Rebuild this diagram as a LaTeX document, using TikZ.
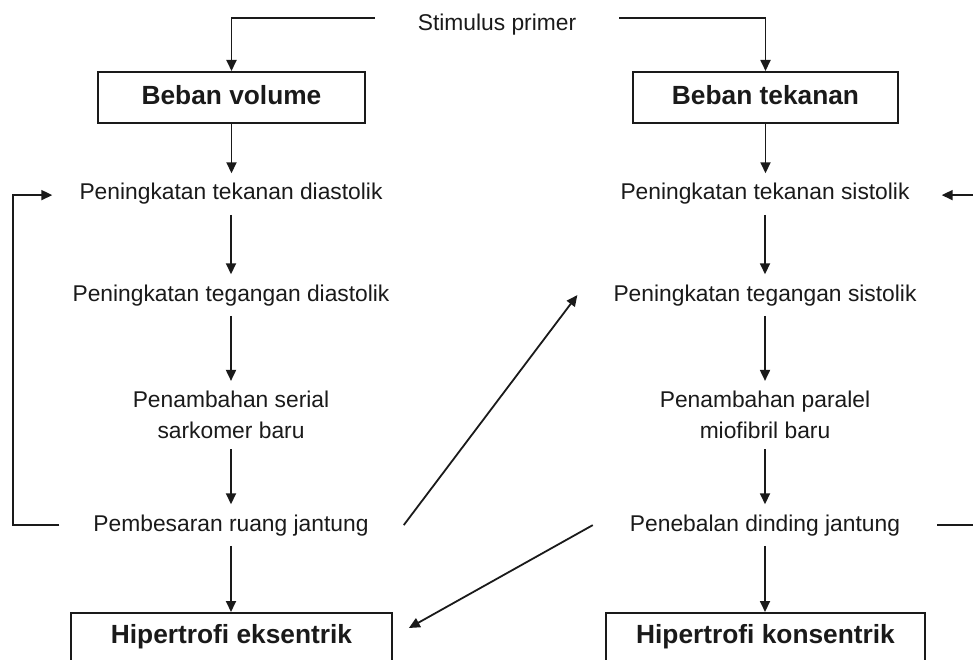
\documentclass[tikz,border=0pt]{standalone}
\usepackage{fontspec}
\setmainfont{Liberation Sans}
\usetikzlibrary{positioning,arrows.meta,calc}
\definecolor{ink}{HTML}{1A1A1A}
\tikzset{
  flow/.style={-{Triangle[length=11pt,width=10pt]}, line width=1.8pt, color=ink},
  lbl/.style={font=\fontsize{22.8}{31}\selectfont, inner sep=10pt, align=center, text=ink},
  blk/.style={draw=ink, line width=1.8pt, font=\fontsize{26.3}{31}\selectfont\bfseries,
    text height=19pt, text depth=4pt, inner ysep=14pt, minimum width=#1, anchor=north, text=ink},
  blk/.default=267pt,
  deep/.style={text depth=30pt, inner ysep=12pt},
}

\begin{document}
\begin{tikzpicture}[x=1pt,y=-1pt]
  \useasboundingbox (0,0) rectangle (973,660);
  \clip (0,0) rectangle (973,660);
  \node[lbl,anchor=base] (stim) at (497,31) {Stimulus primer};
  \node[blk] (vol) at (231.5,71) {Beban volume};
  \node[blk=265pt] (tek) at (765.5,71) {Beban tekanan};
  % volume side
  \node[lbl,anchor=base] (ld1) at (231,200) {Peningkatan tekanan diastolik};
  \node[lbl,anchor=base] (ld2) at (231,301) {Peningkatan tegangan diastolik};
  \node[lbl] (ld3) at (231,415) {Penambahan serial\\sarkomer baru};
  \node[lbl,anchor=base] (ld4) at (231,531) {Pembesaran ruang jantung};
  \node[blk=321pt,deep] (ecc) at (231.5,612) {Hipertrofi eksentrik};
  % pressure side
  \node[lbl,anchor=base] (rs1) at (765,200) {Peningkatan tekanan sistolik};
  \node[lbl,anchor=base] (rs2) at (765,301) {Peningkatan tegangan sistolik};
  \node[lbl] (rs3) at (765,415) {Penambahan paralel\\miofibril baru};
  \node[lbl,anchor=base] (rs4) at (765,531) {Penebalan dinding jantung};
  \node[blk=319pt,deep] (kon) at (765.5,612) {Hipertrofi konsentrik};
  \coordinate (lloop) at (13,0);
  \coordinate (rloop) at (990,0);

  \draw[flow] ([xshift=-33pt,yshift=7pt]stim.west) -| (vol.north);
  \draw[flow] ([xshift=33pt,yshift=7pt]stim.east) -| (tek.north);
  \foreach \a/\b in {vol/ld1,ld1/ld2,ld2/ld3,ld3/ld4,ld4/ecc,
                     tek/rs1,rs1/rs2,rs2/rs3,rs3/rs4,rs4/kon}
    \draw[flow] (\a.south) -- (\a.south |- \b.north);
  % feedback loops
  \draw[flow] ([xshift=-24pt]ld4.west) -- (lloop |- ld4.west)
    |- ([xshift=-17pt,yshift=-1pt]ld1.west);
  \draw[flow] ([xshift=27pt]rs4.east) -- (rloop |- rs4.east)
    |- ([xshift=22pt,yshift=-1pt]rs1.east);
  % cross links
  \draw[flow] ([xshift=25pt]ld4.east) -- ([xshift=-26pt]rs2.west);
  \draw[flow] ([xshift=-27pt]rs4.west) -- ([xshift=16pt,yshift=-16pt]ecc.north east);
\end{tikzpicture}
\end{document}
